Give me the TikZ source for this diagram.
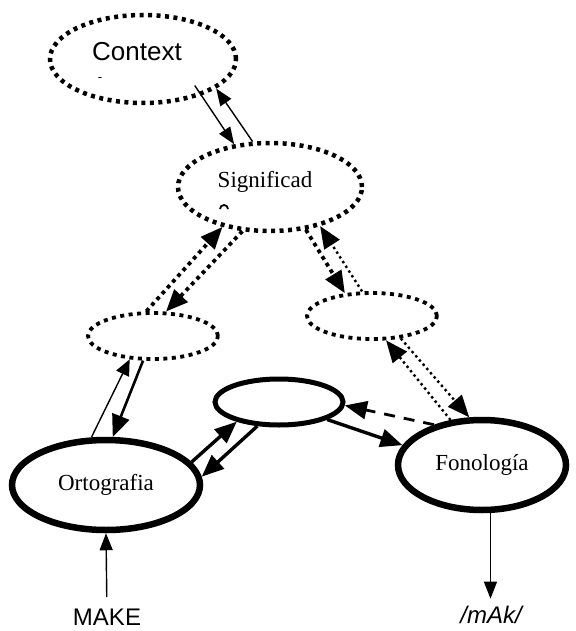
\documentclass[tikz,border=0pt]{standalone}
\usepackage{fontspec}
\setmainfont{Liberation Serif}
\newfontfamily\arialfont{Liberation Sans}
\usetikzlibrary{calc}
\usetikzlibrary{arrows.meta}
\usetikzlibrary{shapes.geometric}

\begin{document}
\begin{tikzpicture}[x=1pt,y=-1pt,
  dotnode/.style={draw,ellipse,line width=4.5pt,dash pattern=on 4pt off 4.5pt,inner sep=0pt},
  boldnode/.style={draw,ellipse,inner sep=0pt,font=\fontsize{23}{27}\selectfont},
  bigtip/.style={-{Triangle[length=22pt,width=18pt]}},
  smalltip/.style={-{Triangle[length=17pt,width=13pt]}},
  thinline/.style={line width=1.4pt},
  dotline/.style={line width=3.8pt,dash pattern=on 3.8pt off 4pt},
  finedots/.style={line width=2.4pt,dash pattern=on 2.4pt off 3.2pt},
  boldline/.style={line width=3.4pt}]%
\useasboundingbox (0,0) rectangle (575,631);%
% ellipses
\node[dotnode,minimum width=186pt,minimum height=88pt] (ctx) at (143,59) {};%
\node[font=\arialfont\fontsize{26}{30}\selectfont] (ctxtext) at (137,52) {Context};%
\node[font=\arialfont\fontsize{13}{15}\selectfont,inner sep=0pt] (ctxmark) at (100,80) {-};%
\node[dotnode,minimum width=184pt,minimum height=88pt] (sig) at (270,187) {};%
\node[font=\fontsize{23}{27}\selectfont] (sigtext) at (265,182) {Significad};%
\draw[line width=1.8pt] ($(sig)+(-50,22)$) arc[start angle=180,end angle=360,radius=4];%
\node[dotnode,line width=3.8pt,minimum width=130pt,minimum height=46pt] (lmid) at (153,336) {};%
\node[dotnode,line width=3.8pt,minimum width=130pt,minimum height=46pt] (rmid) at (372,316) {};%
\node[boldnode,line width=5pt,minimum width=128pt,minimum height=46pt] (cen) at (279,402) {};%
\node[boldnode,line width=6.5pt,minimum width=188pt,minimum height=90pt] (ort) at (106,485) {Ortografia};%
\node[boldnode,line width=6.5pt,minimum width=168pt,minimum height=90pt] (fon) at (482,465) {Fonología};%
\node[font=\arialfont\fontsize{24}{28}\selectfont] (make) at (107,617) {MAKE};%
\node[font=\arialfont\itshape\fontsize{24}{28}\selectfont] (mak) at (491,615) {/mAk/};%
% connectors
\draw[thinline,smalltip,shorten <=-12pt] (ctx.-32) -- (sig.130);%
\draw[thinline,smalltip] (sig.111) -- (ctx.-22);%
\draw[dotline,bigtip] (lmid.105) -- (sig.220);%
\draw[dotline,bigtip] (sig.238) -- (lmid.62);%
\draw[dotline,bigtip] (sig.-50) -- (rmid.140);%
\draw[finedots,bigtip] (rmid.112) -- (sig.-38);%
\draw[finedots,bigtip] (fon.125) -- (rmid.-60);%
\draw[finedots,bigtip] (rmid.-38) -- (fon.105);%
\draw[thinline,-{Triangle[length=16pt,width=14pt]}] (ort.107) -- (lmid.225);%
\draw[line width=2.6pt,bigtip] (lmid.248) -- (ort.82);%
\draw[boldline,bigtip] (ort.15) -- (cen.205);%
\draw[boldline,bigtip] (cen.228) -- (ort.5);%
\draw[boldline,bigtip] (cen.-20) -- (fon.166);%
\draw[line width=2.8pt,dash pattern=on 11pt off 9pt,bigtip] (fon.140) -- (cen.-3);%
\draw[thinline,smalltip,shorten <=8pt] (make) -- (ort.south);%
\draw[thinline,smalltip,shorten >=4pt] (fon.-80) -- (fon.-80 |- mak.north);%
\end{tikzpicture}
\end{document}
